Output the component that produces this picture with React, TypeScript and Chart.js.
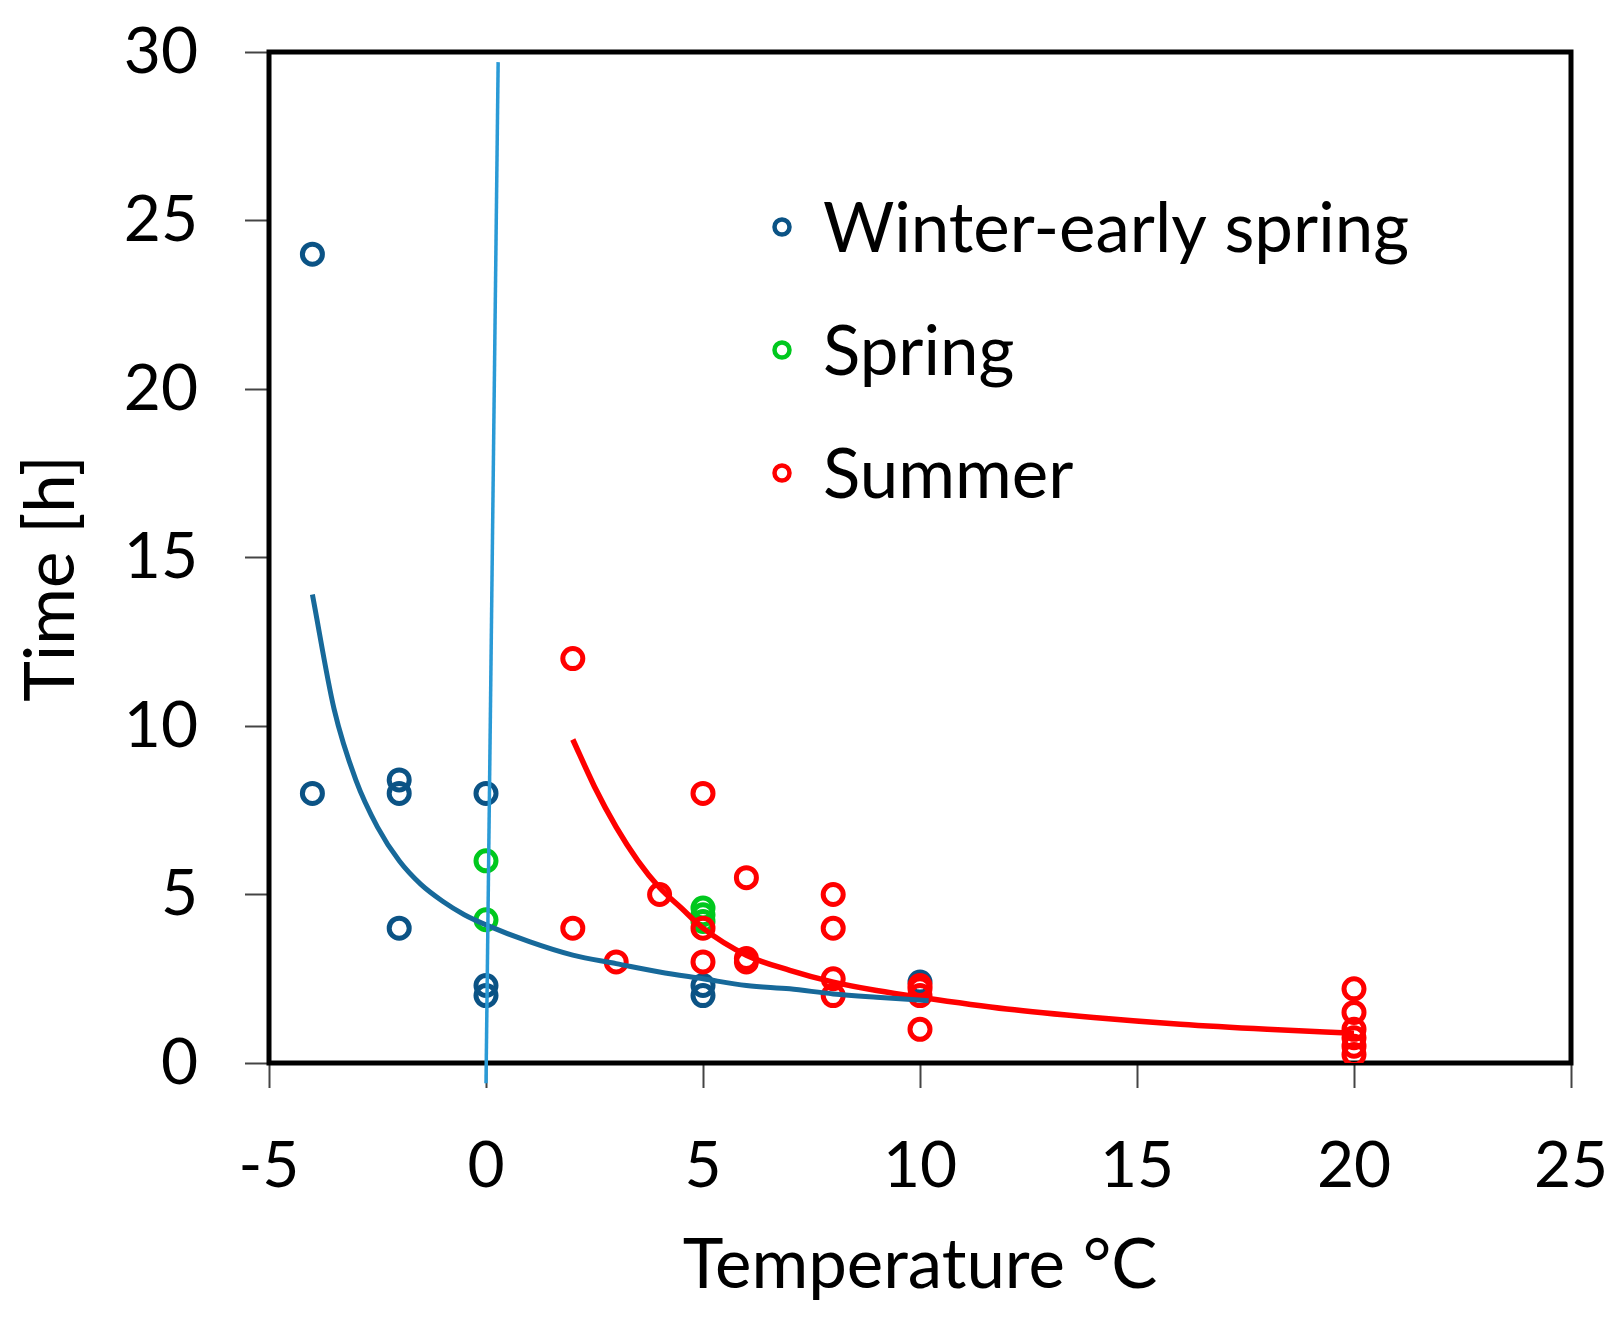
import React, { useEffect, useRef } from "react";
import { Chart, registerables, ChartConfiguration, Plugin } from "chart.js";

Chart.register(...registerables);

// observed points
const winterX = [-4, -4, -2, -2, -2, 0, 0, 0, 5, 5, 10];
const winterY = [24, 8, 8.4, 8, 4, 8, 2.3, 2.0, 2.3, 2.0, 2.4];

const springX = [0, 0, 5, 5, 5];
const springY = [6, 4.25, 4.6, 4.4, 4.2];

const summerX = [2, 2, 3, 4, 5, 5, 5, 6, 6, 6, 8, 8, 8, 8, 10, 10, 10, 10, 20, 20, 20, 20, 20, 20];
const summerY = [12, 4, 3, 5, 8, 4, 3, 5.5, 3.1, 3.0, 5, 4, 2.5, 2, 2.3, 2.2, 2.0, 1.0, 2.2, 1.5, 1.0, 0.75, 0.5, 0.25];

// fitted curves
const winterFitX = [-4, -3.5, -3, -2.5, -2, -1.5, -1, -0.5, 0, 1, 2, 3, 4, 5, 6, 7, 8, 9, 10.2];
const winterFitY = [13.9, 10.5, 8.4, 7.0, 6.0, 5.3, 4.8, 4.4, 4.1, 3.6, 3.2, 2.95, 2.7, 2.5, 2.3, 2.2, 2.05, 1.95, 1.85];

const summerFitX = [2, 2.5, 3, 3.5, 4, 4.5, 5, 6, 7, 8, 9, 10, 12, 14, 16, 18, 20];
const summerFitY = [9.6, 8.2, 7.0, 6.0, 5.2, 4.6, 4.0, 3.2, 2.75, 2.4, 2.15, 1.95, 1.6, 1.35, 1.15, 1.0, 0.88];

const verticalX = [0.0, 0.28];
const verticalY = [-0.6, 29.7];

const legendLabels = ["Winter-early spring", "Spring", "Summer"];
const legendColors = ["#0b5385", "#00c81e", "#ff0000"];

const xTitle = "Temperature °C";
const yTitle = "Time [h]";

const FONT = "Lato";

function toPoints(xs: number[], ys: number[]) {
  return xs.map((x, i) => ({ x, y: ys[i] }));
}

const framePlugin: Plugin<"scatter"> = {
  id: "frame",
  beforeDatasetsDraw(chart) {
    const { ctx, chartArea } = chart;
    ctx.save();
    ctx.strokeStyle = "#000";
    ctx.lineWidth = 5;
    ctx.strokeRect(chartArea.left, chartArea.top, chartArea.right - chartArea.left, chartArea.bottom - chartArea.top);
    ctx.restore();
  },
};

const insideLegend: Plugin<"scatter"> = {
  id: "insideLegend",
  afterDatasetsDraw(chart) {
    const { ctx, chartArea } = chart;
    ctx.save();
    legendLabels.forEach((label, i) => {
      const cx = chartArea.left + 513;
      const cy = chartArea.top + 175 + i * 123;
      ctx.beginPath();
      ctx.arc(cx, cy, 7.5, 0, Math.PI * 2);
      ctx.lineWidth = 4.5;
      ctx.strokeStyle = legendColors[i];
      ctx.stroke();
      ctx.fillStyle = "#000";
      ctx.font = `69px ${FONT}`;
      ctx.textBaseline = "alphabetic";
      ctx.textAlign = "left";
      ctx.fillText(label, cx + 41, cy + 25);
    });
    ctx.restore();
  },
};

// axis titles, placed as in the original (y title sits a bit below the middle)
const axisTitles: Plugin<"scatter"> = {
  id: "axisTitles",
  afterDraw(chart) {
    const { ctx, chartArea } = chart;
    ctx.save();
    ctx.fillStyle = "#000";
    ctx.font = `69px ${FONT}`;
    ctx.textAlign = "center";
    ctx.textBaseline = "alphabetic";
    ctx.fillText(xTitle, (chartArea.left + chartArea.right) / 2, chartArea.bottom + 225);
    ctx.textBaseline = "middle";
    ctx.translate(52, (chartArea.top + chartArea.bottom) / 2 + 21);
    ctx.rotate(-Math.PI / 2);
    ctx.fillText(yTitle, 0, 0);
    ctx.restore();
  },
};

export default function App() {
  const chartRef = useRef<HTMLCanvasElement | null>(null);

  useEffect(() => {
    document.body.style.margin = "0";
    if (!chartRef.current) return;
    const ctx = chartRef.current.getContext("2d");
    if (!ctx) return;

    const pointStyle = (color: string, order: number) => ({
      showLine: false,
      pointRadius: 10,
      pointBorderWidth: 5,
      pointBackgroundColor: "rgba(0,0,0,0)",
      pointBorderColor: color,
      borderColor: color,
      borderWidth: 5,
      order,
    });

    const config: ChartConfiguration<"scatter"> = {
      type: "scatter",
      data: {
        datasets: [
          {
            label: "Winter-early spring",
            data: toPoints(winterX, winterY),
            ...pointStyle("#0b5385", 6),
          },
          {
            label: "Spring",
            data: toPoints(springX, springY),
            ...pointStyle("#00c81e", 5),
          },
          {
            label: "Summer",
            data: toPoints(summerX, summerY),
            ...pointStyle("#ff0000", 4),
          },
          {
            label: "Summer fit",
            data: toPoints(summerFitX, summerFitY),
            showLine: true,
            borderColor: "#ff0000",
            borderWidth: 5.5,
            pointRadius: 0,
            cubicInterpolationMode: "monotone",
            order: 3,
          },
          {
            label: "Winter fit",
            data: toPoints(winterFitX, winterFitY),
            showLine: true,
            borderColor: "#17699a",
            borderWidth: 5,
            pointRadius: 0,
            cubicInterpolationMode: "monotone",
            order: 2,
          },
          {
            label: "Vertical",
            data: toPoints(verticalX, verticalY),
            showLine: true,
            borderColor: "#2a9ad6",
            borderWidth: 3.5,
            pointRadius: 0,
            clip: false,
            order: 1,
          },
        ],
      },
      options: {
        responsive: false,
        animation: false,
        layout: { padding: { top: 52, right: 49, left: 0, bottom: 0 } },
        plugins: {
          legend: { display: false },
          tooltip: { enabled: false },
        },
        scales: {
          x: {
            type: "linear",
            min: -5,
            max: 25,
            ticks: {
              stepSize: 5,
              color: "#000",
              padding: 40,
              font: { family: FONT, size: 64 },
            },
            grid: {
              drawOnChartArea: false,
              drawTicks: true,
              tickLength: 25,
              tickColor: "#444",
              tickWidth: 2,
            },
            border: { display: false },
            title: { display: false },
            afterFit: (scale) => {
              scale.height = 258;
              scale.paddingLeft = 0;
              scale.paddingRight = 0;
            },
          },
          y: {
            type: "linear",
            min: 0,
            max: 30,
            ticks: {
              stepSize: 5,
              color: "#000",
              padding: 47,
              font: { family: FONT, size: 64 },
            },
            grid: {
              drawOnChartArea: false,
              drawTicks: true,
              tickLength: 24,
              tickColor: "#444",
              tickWidth: 2,
            },
            border: { display: false },
            title: { display: false },
            afterFit: (scale) => {
              scale.width = 269;
              scale.paddingTop = 0;
              scale.paddingBottom = 0;
            },
          },
        },
      },
      plugins: [framePlugin, insideLegend, axisTitles],
    };

    const chart = new Chart(ctx, config);
    document.fonts?.ready.then(() => chart.update());

    return () => {
      chart.destroy();
    };
  }, []);

  return (
    <div style={{ width: 1620, height: 1321, background: "#fff" }}>
      <canvas ref={chartRef} width={1620} height={1321}></canvas>
    </div>
  );
}
